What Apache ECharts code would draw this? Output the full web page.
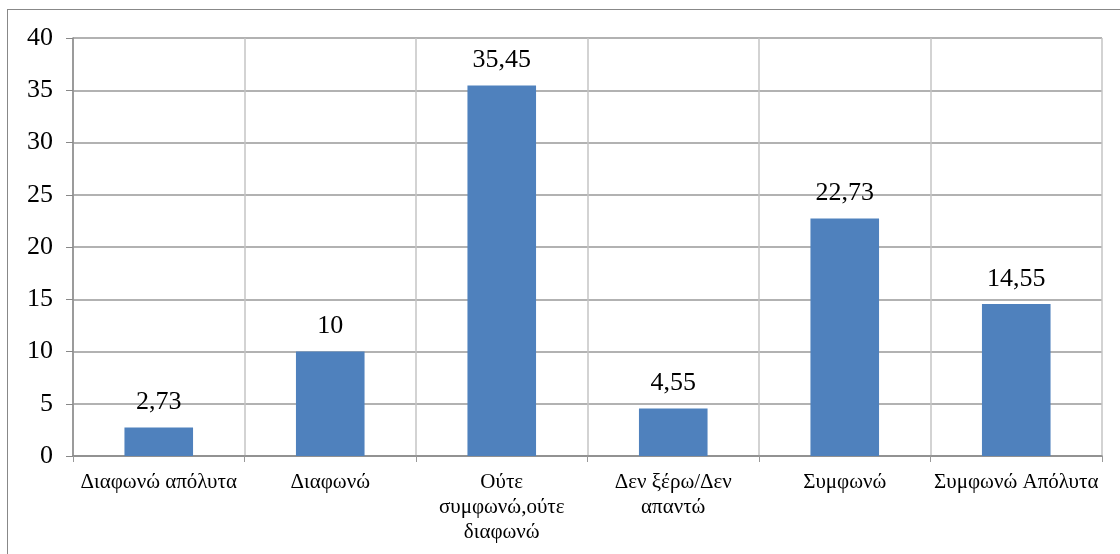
<!DOCTYPE html>
<html><head><meta charset="utf-8">
<script src="https://cdn.jsdelivr.net/npm/echarts@6/dist/echarts.min.js"></script>
<style>
html,body{margin:0;padding:0;background:#fff;}
#frame{position:absolute;left:7px;top:9px;width:1120px;height:560px;border:1px solid #888;box-sizing:border-box;}
#c{position:absolute;left:0;top:0;width:1120px;height:554px;}
</style></head>
<body><div id="frame"></div><div id="c"></div>
<script>
const categories = ['Διαφωνώ απόλυτα', 'Διαφωνώ', 'Ούτε\nσυμφωνώ,ούτε\nδιαφωνώ', 'Δεν ξέρω/Δεν\nαπαντώ', 'Συμφωνώ', 'Συμφωνώ Απόλυτα'];
const values = [2.73, 10, 35.45, 4.55, 22.73, 14.55];
const yTicks = [0, 5, 10, 15, 20, 25, 30, 35, 40];

const chart = echarts.init(document.getElementById('c'));
const font = '"Liberation Serif", "DejaVu Serif", serif';
chart.setOption({
  animation: false,
  grid: {left: 73, right: 18, top: 38, bottom: 98},
  xAxis: {
    type: 'category', data: categories,
    axisLine: {lineStyle: {color: '#888', width: 1.5}},
    axisTick: {show: true, interval: 0, length: 6, lineStyle: {color: '#999'}},
    axisLabel: {interval: 0, hideOverlap: false, color: '#000', fontFamily: font, fontSize: 21, lineHeight: 25, margin: 14},
    splitLine: {show: true, interval: 0, lineStyle: {color: '#c4c4c4', width: 1.5}}
  },
  yAxis: {
    type: 'value', min: yTicks[0], max: yTicks[yTicks.length-1], interval: 5,
    axisLine: {show: true, lineStyle: {color: '#888', width: 1.5}},
    axisTick: {show: true, length: 7, lineStyle: {color: '#888'}},
    axisLabel: {color: '#000', fontFamily: font, fontSize: 26, margin: 20},
    splitLine: {show: true, lineStyle: {color: '#999', width: 1.5}}
  },
  series: [{
    type: 'bar', data: values, barWidth: '40%',
    itemStyle: {color: '#4f81bd'},
    label: {show: true, position: 'top', distance: 12, color: '#000', fontFamily: font, fontSize: 26,
      formatter: p => String(p.value).replace('.', ',')}
  }]
});
</script></body></html>
